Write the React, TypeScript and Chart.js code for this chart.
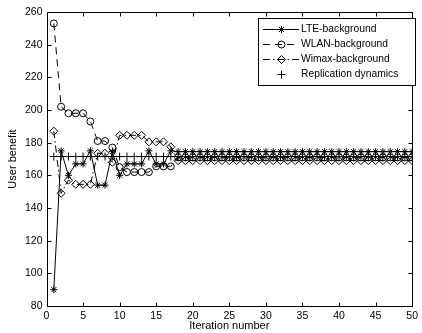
import React, { useEffect, useRef } from "react";
import { Chart, registerables } from "chart.js";

Chart.register(...registerables);

const iterations = [
  1, 2, 3, 4, 5, 6, 7, 8, 9, 10, 11, 12, 13, 14, 15, 16, 17, 18, 19, 20, 21, 22, 23, 24, 25,
  26, 27, 28, 29, 30, 31, 32, 33, 34, 35, 36, 37, 38, 39, 40, 41, 42, 43, 44, 45, 46, 47, 48, 49, 50,
];

const lteBackground = [
  90, 175, 160, 167, 167, 175, 154, 154, 174.5, 160, 167, 167, 167, 175, 167, 167, 175, 174.5, 174.5, 174.5,
  174.5, 174.5, 174.5, 174.5, 174.5, 174.5, 174.5, 174.5, 174.5, 174.5, 174.5, 174.5, 174.5, 174.5, 174.5,
  174.5, 174.5, 174.5, 174.5, 174.5, 174.5, 174.5, 174.5, 174.5, 174.5, 174.5, 174.5, 174.5, 174.5, 174.5,
];

const wlanBackground = [
  253, 202, 198, 198, 198, 193, 181, 181, 177, 165, 162, 162, 162, 162, 165.5, 165.5, 165.5, 171, 171, 171,
  171, 171, 171, 171, 171, 171, 171, 171, 171, 171, 171, 171, 171, 171, 171,
  171, 171, 171, 171, 171, 171, 171, 171, 171, 171, 171, 171, 171, 171, 171,
];

const wimaxBackground = [
  187, 149, 157, 154.5, 154.5, 154.5, 173.5, 173.5, 168, 184.5, 184.5, 184.5, 184.5, 180.5, 180.5, 180.5, 177.5,
  169, 169, 169, 169, 169, 169, 169, 169, 169, 169, 169, 169, 169, 169, 169, 169, 169, 169,
  169, 169, 169, 169, 169, 169, 169, 169, 169, 169, 169, 169, 169, 169, 169,
];

const replicationDynamics = [
  171.5, 171.5, 171.5, 171.5, 171.5, 171.5, 171.5, 171.5, 171.5, 171.5, 171.5, 171.5, 171.5, 171.5, 171.5,
  171.5, 171.5, 171.5, 171.5, 171.5, 171.5, 171.5, 171.5, 171.5, 171.5, 171.5, 171.5, 171.5, 171.5, 171.5,
  171.5, 171.5, 171.5, 171.5, 171.5, 171.5, 171.5, 171.5, 171.5, 171.5, 171.5, 171.5, 171.5, 171.5, 171.5,
  171.5, 171.5, 171.5, 171.5, 171.5,
];

const seriesNames = ["LTE-background", "WLAN-background", "Wimax-background", "Replication dynamics"];

const FONT = "'Liberation Sans', Arial, Helvetica, sans-serif";

function toPoints(values: number[]) {
  return values.map((v, i) => ({ x: iterations[i], y: v }));
}

function drawMarker(ctx: CanvasRenderingContext2D, style: string, x: number, y: number, r: number) {
  ctx.beginPath();
  if (style === "star") {
    ctx.moveTo(x - r, y); ctx.lineTo(x + r, y);
    ctx.moveTo(x, y - r); ctx.lineTo(x, y + r);
    const d = r * Math.SQRT1_2;
    ctx.moveTo(x - d, y - d); ctx.lineTo(x + d, y + d);
    ctx.moveTo(x - d, y + d); ctx.lineTo(x + d, y - d);
  } else if (style === "circle") {
    ctx.arc(x, y, r, 0, Math.PI * 2);
  } else if (style === "rectRot") {
    ctx.moveTo(x, y - r); ctx.lineTo(x + r, y); ctx.lineTo(x, y + r); ctx.lineTo(x - r, y); ctx.closePath();
  } else if (style === "cross") {
    ctx.moveTo(x - r, y); ctx.lineTo(x + r, y);
    ctx.moveTo(x, y - r); ctx.lineTo(x, y + r);
  }
  ctx.stroke();
}

const framePlugin = {
  id: "matlabFrame",
  afterDraw(chart: any) {
    const ctx: CanvasRenderingContext2D = chart.ctx;
    const { left, right, top, bottom } = chart.chartArea;
    const xs = chart.scales.x;
    const ys = chart.scales.y;
    ctx.save();
    ctx.strokeStyle = "#000";
    ctx.lineWidth = 1;
    ctx.setLineDash([]);
    const L = Math.round(left) + 0.5, R = Math.round(right) + 0.5, T = Math.round(top) + 0.5, B = Math.round(bottom) + 0.5;
    ctx.beginPath();
    ctx.rect(L, T, R - L, B - T);
    ctx.stroke();
    ctx.beginPath();
    xs.ticks.forEach((t: any) => {
      const x = Math.round(xs.getPixelForValue(t.value)) + 0.5;
      ctx.moveTo(x, B); ctx.lineTo(x, B - 4);
      ctx.moveTo(x, T); ctx.lineTo(x, T + 4);
    });
    ys.ticks.forEach((t: any) => {
      const y = Math.round(ys.getPixelForValue(t.value)) + 0.5;
      ctx.moveTo(L, y); ctx.lineTo(L + 4, y);
      ctx.moveTo(R, y); ctx.lineTo(R - 4, y);
    });
    ctx.stroke();

    // legend
    const lx0 = 258.5, lx1 = 415.5, ly0 = 18.5, ly1 = 85.5;
    ctx.fillStyle = "#fff";
    ctx.fillRect(lx0, ly0, lx1 - lx0, ly1 - ly0);
    ctx.strokeRect(lx0, ly0, lx1 - lx0, ly1 - ly0);
    const rows = [28.5, 44, 59, 74];
    const dashes = [[], [7, 5], [7, 3, 1.5, 3], null];
    const markers = ["star", "circle", "rectRot", "cross"];
    const radii = [3.5, 3.5, 4, 4];
    ctx.font = `10.3px ${FONT}`;
    ctx.textBaseline = "middle";
    ctx.textAlign = "left";
    rows.forEach((y, i) => {
      const d = dashes[i];
      if (d) {
        ctx.setLineDash(d as number[]);
        ctx.beginPath();
        ctx.moveTo(263, Math.round(y) + 0.5);
        ctx.lineTo(299, Math.round(y) + 0.5);
        ctx.stroke();
      }
      ctx.setLineDash([]);
      drawMarker(ctx, markers[i], 281.5, Math.round(y) + 0.5, radii[i]);
      ctx.fillStyle = "#000";
      ctx.fillText(seriesNames[i], 301, y + 0.5);
    });
    ctx.restore();
  },
};

export default function App() {
  const canvasRef = useRef<HTMLCanvasElement | null>(null);

  useEffect(() => {
    const canvas = canvasRef.current;
    if (!canvas) return;
    const common = {
      borderColor: "#000",
      borderWidth: 1,
      pointBorderColor: "#000",
      pointBackgroundColor: "rgba(0,0,0,0)",
      pointBorderWidth: 1,
      tension: 0,
      fill: false,
    };
    const chart = new Chart(canvas, {
      type: "line",
      data: {
        datasets: [
          {
            ...common,
            label: seriesNames[1],
            data: toPoints(wlanBackground),
            borderDash: [7, 5],
            pointStyle: "circle",
            pointRadius: 3.5,
          },
          {
            ...common,
            label: seriesNames[2],
            data: toPoints(wimaxBackground),
            borderDash: [7, 3, 1.5, 3],
            pointStyle: "rectRot",
            pointRadius: 4,
          },
          {
            ...common,
            label: seriesNames[3],
            data: toPoints(replicationDynamics),
            showLine: false,
            pointStyle: "cross",
            pointRadius: 4,
          },
          {
            ...common,
            label: seriesNames[0],
            data: toPoints(lteBackground),
            pointStyle: "star",
            pointRadius: 3.5,
          },
        ],
      },
      options: {
        responsive: false,
        animation: false,
        devicePixelRatio: 1,
        layout: { padding: { top: 12, right: 4, left: 0, bottom: 0 } },
        plugins: {
          legend: { display: false },
          tooltip: { enabled: false },
        },
        elements: { point: { hoverRadius: 4 } },
        scales: {
          x: {
            type: "linear",
            min: 0,
            max: 50,
            grid: { display: false, drawTicks: false },
            border: { display: false },
            ticks: {
              stepSize: 5,
              autoSkip: false,
              maxRotation: 0,
              padding: 4,
              color: "#000",
              font: { family: FONT, size: 10.5 },
            },
            title: {
              display: true,
              text: "Iteration number",
              color: "#000",
              font: { family: FONT, size: 11 },
              padding: { top: 0, bottom: 0 },
            },
            afterFit: (scale: any) => {
              scale.height = 27;
            },
          },
          y: {
            type: "linear",
            min: 80,
            max: 260,
            grid: { display: false, drawTicks: false },
            border: { display: false },
            ticks: {
              stepSize: 20,
              autoSkip: false,
              padding: 4,
              color: "#000",
              font: { family: FONT, size: 10.5 },
            },
            title: {
              display: true,
              text: "User benefit",
              color: "#000",
              font: { family: FONT, size: 11 },
              padding: { top: 6, bottom: 0 },
            },
            afterFit: (scale: any) => {
              scale.width = 46.5;
            },
          },
        },
      },
      plugins: [framePlugin],
    });
    return () => chart.destroy();
  }, []);

  return (
    <div style={{ position: "fixed", left: 0, top: 0, width: 422, height: 333, background: "#fff" }}>
      <canvas ref={canvasRef} width={422} height={333} style={{ display: "block" }} />
    </div>
  );
}
